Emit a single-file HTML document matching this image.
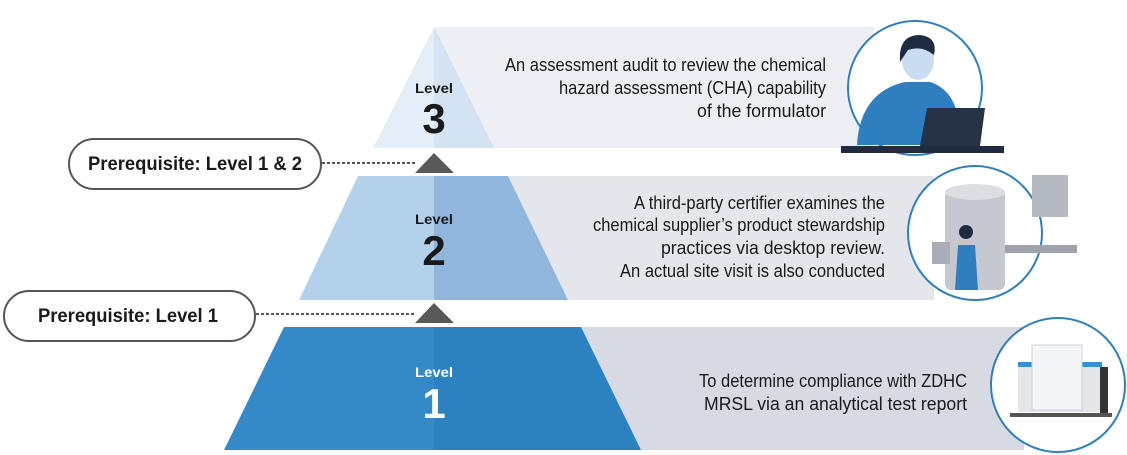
<!DOCTYPE html>
<html><head><meta charset="utf-8"><style>
html,body{margin:0;padding:0;background:#fff;}
svg{display:block;}
.t{font-family:"Liberation Sans Narrow","Liberation Sans",sans-serif;font-size:18px;fill:#1a1a1a;}
.b{font-family:"Liberation Sans Narrow","Liberation Sans",sans-serif;font-weight:bold;}
</style></head><body>
<svg width="1127" height="455" viewBox="0 0 1127 455" xmlns="http://www.w3.org/2000/svg">
<rect x="434" y="27" width="440" height="121" fill="#eceef3"/>
<rect x="434" y="176" width="500" height="124" fill="#e4e6ec"/>
<rect x="434" y="327" width="590" height="123" fill="#d8dae3"/>
<polygon points="434,27 373,148 434,148" fill="#e4eef8"/>
<polygon points="434,27 494,148 434,148" fill="#d3e3f3"/>
<polygon points="358,176 434,176 434,300 299,300" fill="#b3d1ea"/>
<polygon points="434,176 508,176 568,300 434,300" fill="#91b6de"/>
<polygon points="284,327 434,327 434,450 224,450" fill="#3489c8"/>
<polygon points="434,327 581,327 641,450 434,450" fill="#2c82c1"/>
<text x="434" y="93" text-anchor="middle" class="b" font-size="14" fill="#1a1a1a" textLength="38" lengthAdjust="spacingAndGlyphs">Level</text>
<text x="434" y="133" text-anchor="middle" class="b" font-size="42" fill="#1a1a1a">3</text>
<text x="434" y="224" text-anchor="middle" class="b" font-size="14" fill="#1a1a1a" textLength="38" lengthAdjust="spacingAndGlyphs">Level</text>
<text x="434" y="265" text-anchor="middle" class="b" font-size="42" fill="#1a1a1a">2</text>
<text x="434" y="377" text-anchor="middle" class="b" font-size="14" fill="#fff" textLength="38" lengthAdjust="spacingAndGlyphs">Level</text>
<text x="434" y="418" text-anchor="middle" class="b" font-size="42" fill="#fff">1</text>
<polygon points="434,153 415,173 454,173" fill="#595959"/>
<polygon points="434,303 415,323 454,323" fill="#595959"/>
<line x1="322" y1="163" x2="415" y2="163" stroke="#555" stroke-width="2" stroke-dasharray="3,2"/>
<line x1="256" y1="314" x2="415" y2="314" stroke="#555" stroke-width="2" stroke-dasharray="3,2"/>
<rect x="69" y="139" width="252" height="50" rx="25" fill="#fff" stroke="#555" stroke-width="2"/>
<text x="88" y="170" class="b" font-size="19" fill="#1a1a1a" textLength="214" lengthAdjust="spacingAndGlyphs">Prerequisite: Level 1 &amp; 2</text>
<rect x="4" y="291" width="251" height="50" rx="25" fill="#fff" stroke="#555" stroke-width="2"/>
<text x="38" y="322" class="b" font-size="19" fill="#1a1a1a" textLength="180" lengthAdjust="spacingAndGlyphs">Prerequisite: Level 1</text>
<text class="t" x="505" y="71" textLength="321" lengthAdjust="spacingAndGlyphs">An assessment audit to review the chemical</text>
<text class="t" x="559" y="94" textLength="267" lengthAdjust="spacingAndGlyphs">hazard assessment (CHA) capability</text>
<text class="t" x="697" y="117" textLength="129" lengthAdjust="spacingAndGlyphs">of the formulator</text>
<text class="t" x="634" y="209" textLength="251" lengthAdjust="spacingAndGlyphs">A third-party certifier examines the</text>
<text class="t" x="593" y="231" textLength="292" lengthAdjust="spacingAndGlyphs">chemical supplier’s product stewardship</text>
<text class="t" x="661" y="254" textLength="224" lengthAdjust="spacingAndGlyphs">practices via desktop review.</text>
<text class="t" x="620" y="277" textLength="265" lengthAdjust="spacingAndGlyphs">An actual site visit is also conducted</text>
<text class="t" x="699" y="387" textLength="268" lengthAdjust="spacingAndGlyphs">To determine compliance with ZDHC</text>
<text class="t" x="704" y="410" textLength="263" lengthAdjust="spacingAndGlyphs">MRSL via an analytical test report</text>
<circle cx="915" cy="88" r="67" fill="#fff" stroke="#2f7fc0" stroke-width="2"/>
<path d="M857,145 Q860,92 905,82 L930,82 Q962,92 960,145 Z" fill="#2f7fc0"/>
<ellipse cx="918" cy="60" rx="16" ry="20" fill="#c9dcf0"/>
<path d="M900,62 Q898,35 920,35 Q938,37 934,55 Q922,45 908,50 Z" fill="#1e2b40"/>
<path d="M927,108 L985,108 L980,146 L920,146 Z" fill="#263246"/>
<rect x="841" y="146" width="163" height="7" fill="#1e2b40"/>
<circle cx="975" cy="233" r="67" fill="#fff" stroke="#2f7fc0" stroke-width="2"/>
<rect x="945" y="190" width="60" height="100" rx="6" fill="#c5c8cf"/>
<ellipse cx="975" cy="192" rx="30" ry="8" fill="#dcdee3"/>
<rect x="1032" y="175" width="36" height="42" fill="#b5b9c0"/>
<rect x="1005" y="245" width="72" height="8" fill="#9ea3ab"/>
<rect x="932" y="242" width="18" height="22" fill="#a9adb5"/>
<path d="M958,245 L975,245 L978,290 L955,290 Z" fill="#2f7fc0"/>
<circle cx="966" cy="232" r="7" fill="#1e2b40"/>
<circle cx="1058" cy="385" r="67" fill="#fff" stroke="#2f7fc0" stroke-width="2"/>
<rect x="1018" y="362" width="84" height="50" fill="#e4e6ea"/>
<rect x="1018" y="362" width="84" height="5" fill="#3a8fd0"/>
<rect x="1032" y="345" width="50" height="65" fill="#f4f5f7" stroke="#d0d3d8"/>
<rect x="1100" y="367" width="8" height="48" fill="#333"/>
<rect x="1010" y="413" width="102" height="4" fill="#555"/>
</svg>
</body></html>
